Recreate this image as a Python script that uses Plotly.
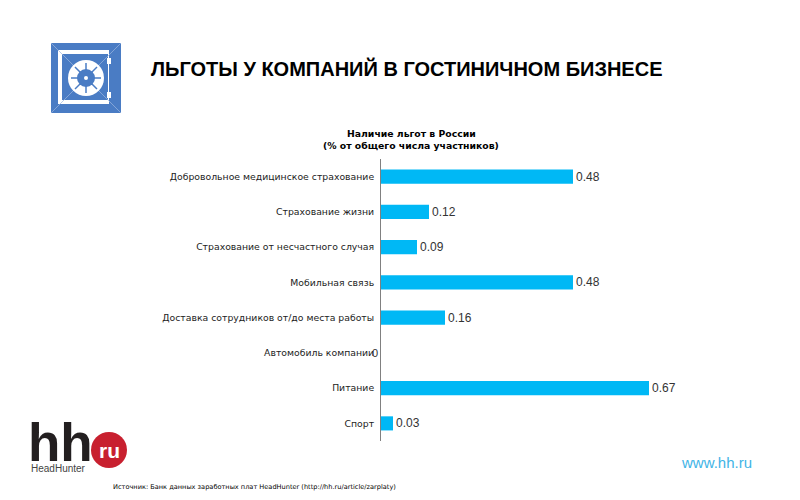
"""Hotel-business benefits bar chart, with the HeadHunter slide furniture."""

import plotly.graph_objects as go

CATEGORIES = [
    "Добровольное медицинское страхование",
    "Страхование жизни",
    "Страхование от несчастного случая",
    "Мобильная связь",
    "Доставка сотрудников от/до места работы",
    "Автомобиль компании",
    "Питание",
    "Спорт",
]
VALUES = [0.48, 0.12, 0.09, 0.48, 0.16, 0, 0.67, 0.03]
# the zero label sits left of the axis in the original, so it is added separately
VALUE_LABELS = ["0.48", "0.12", "0.09", "0.48", "0.16", "", "0.67", "0.03"]

BAR_COLOR = "#00B8F5"
ICON_BLUE = "#4A7CC4"
ICON_LIGHT = "#9DB8E0"
LOGO_RED = "#C8202F"
W, H = 800, 500


def px_x(x):
    return x / W


def px_y(y):
    return 1 - y / H


def rect(x0, y0, x1, y1, color):
    return dict(type="rect", xref="paper", yref="paper", x0=px_x(x0), x1=px_x(x1),
                y0=px_y(y0), y1=px_y(y1), fillcolor=color, line_width=0, layer="above")


def circle(cx, cy, r, color):
    return dict(type="circle", xref="paper", yref="paper", x0=px_x(cx - r), x1=px_x(cx + r),
                y0=px_y(cy - r), y1=px_y(cy + r), fillcolor=color, line_width=0, layer="above")


def seg(x0, y0, x1, y1, color, width=1.5):
    return dict(type="line", xref="paper", yref="paper", x0=px_x(x0), x1=px_x(x1),
                y0=px_y(y0), y1=px_y(y1), line=dict(color=color, width=width), layer="above")


def text(x, y, s, size, color="#000000", anchor="left", family="DejaVu Sans", bold=False):
    return dict(xref="paper", yref="paper", x=px_x(x), y=px_y(y), text=f"<b>{s}</b>" if bold else s,
                showarrow=False, xanchor=anchor, yanchor="middle",
                font=dict(size=size, color=color, family=family))


def safe_icon():
    shapes = [
        rect(51, 43, 121, 113, ICON_BLUE),
        rect(58, 50, 109, 104, "#FFFFFF"),
        rect(62, 54, 108, 100, ICON_BLUE),
        # thin diagonals running out of the door corners
        seg(51, 43, 121, 113, ICON_LIGHT, 0.7),
        seg(121, 43, 51, 113, ICON_LIGHT, 0.7),
        # hinges
        rect(107, 58, 111, 64, "#FFFFFF"),
        rect(107, 92, 111, 98, "#FFFFFF"),
        circle(86, 78, 18, "#FFFFFF"),
        circle(86, 78, 9, ICON_BLUE),
        circle(86, 78, 2, "#FFFFFF"),
    ]
    for x0, y0, x1, y1 in [(86, 63, 86, 70), (86, 86, 86, 93), (71, 78, 78, 78), (94, 78, 101, 78),
                           (75, 67, 81, 73), (91, 83, 97, 89), (97, 67, 91, 73), (81, 83, 75, 89)]:
        shapes.append(seg(x0, y0, x1, y1, ICON_BLUE, 1.5))
    return shapes


fig = go.Figure(go.Bar(
    x=VALUES,
    y=CATEGORIES,
    orientation="h",
    marker=dict(color=BAR_COLOR, line_width=0),
    width=0.4,
    text=VALUE_LABELS,
    textposition="outside",
    cliponaxis=False,
    textfont=dict(family="Liberation Sans", size=12, color="#333333"),
))

annotations = [
    text(149, 68, "ЛЬГОТЫ У КОМПАНИЙ В ГОСТИНИЧНОМ БИЗНЕСЕ", 20, family="Liberation Sans", bold=True),
    text(411, 133, "Наличие льгот в России", 9.3, anchor="center", bold=True),
    text(411, 145, "(% от общего числа участников)", 9.3, anchor="center", bold=True),
    text(254, 487, "Источник: Банк данных заработных плат HeadHunter (http://hh.ru/article/zarplaty)",
         6.6, anchor="center"),
    text(754, 462, "www.hh.ru", 15, color="#3FB4E6", anchor="right", family="Liberation Sans"),
    text(26, 442, "hh", 53, color="#231F20", family="Liberation Sans", bold=True),
    text(109, 450, "ru", 21, color="#FFFFFF", anchor="center", family="Liberation Sans", bold=True),
    text(29, 468, "HeadHunter", 10, color="#444444", family="Liberation Sans"),
    dict(x=VALUES[5], y=CATEGORIES[5], xref="x", yref="y", text="0", showarrow=False,
         xanchor="right", xshift=-1, font=dict(family="Liberation Sans", size=11, color="#333333")),
]

fig.update_layout(
    width=W,
    height=H,
    margin=dict(l=0, r=0, t=0, b=0),
    paper_bgcolor="#FFFFFF",
    plot_bgcolor="#FFFFFF",
    showlegend=False,
    shapes=safe_icon() + [circle(109, 450, 18, LOGO_RED)],
    annotations=annotations,
    xaxis=dict(domain=[381 / W, 781 / W], range=[0, 1], visible=False),
    yaxis=dict(
        domain=[1 - 441 / H, 1 - 159 / H],
        autorange="reversed",
        showgrid=False,
        showline=True,
        linecolor="#808080",
        linewidth=1,
        ticks="",
        ticklabelstandoff=4,
        tickfont=dict(family="DejaVu Sans", size=9.3, color="#222222"),
    ),
)

fig.write_html("out.html", config=dict(displayModeBar=False),
               post_script="document.body.style.margin='0'")
